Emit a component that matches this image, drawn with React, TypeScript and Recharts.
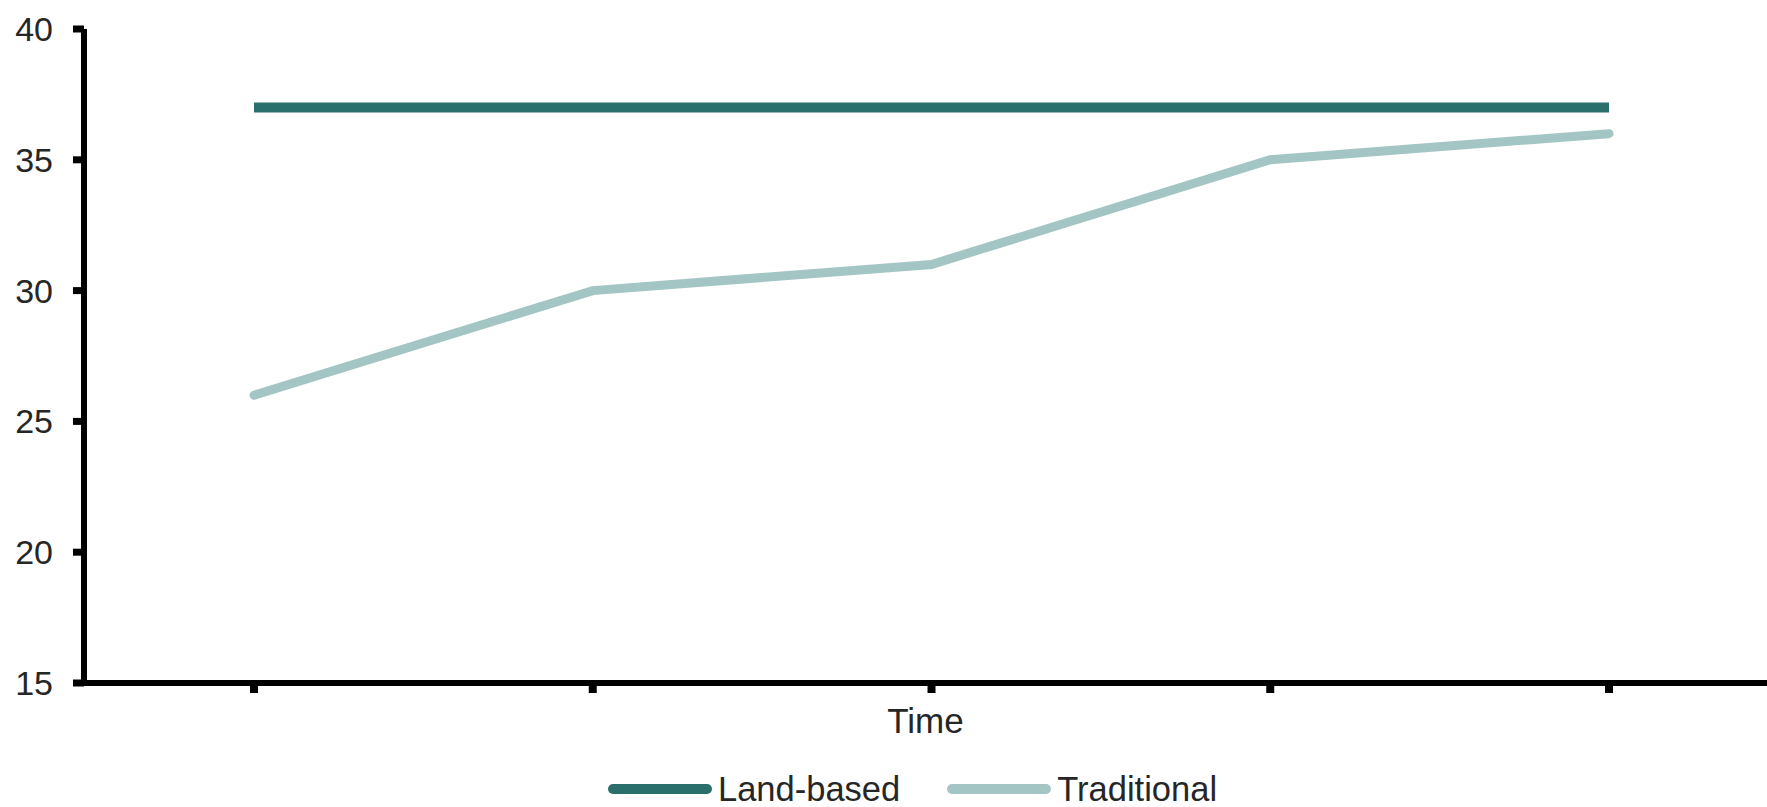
import React from 'react';
import { LineChart, Line, XAxis, YAxis, Legend } from 'recharts';

// chart values
const periods = ['P1', 'P2', 'P3', 'P4', 'P5'];
const landBased = [37, 37, 37, 37, 37];
const traditional = [26, 30, 31, 35, 36];
const yTicks = [15, 20, 25, 30, 35, 40];

const LAND_COLOR = '#2b6f6c';
const TRAD_COLOR = '#a3c5c4';
const TEXT_COLOR = '#262626';
const FONT = "'Liberation Sans', Arial, sans-serif";

const data = periods.map((p, i) => ({
  period: p,
  land: landBased[i],
  trad: traditional[i],
}));

const renderLegend = (props: any) => {
  const { payload } = props;
  return (
    <div style={{ display: 'flex', alignItems: 'center', height: 34 }}>
      {payload.map((entry: any, idx: number) => (
        <div
          key={`legend-${idx}`}
          style={{ display: 'flex', alignItems: 'center', marginRight: idx === 0 ? 47 : 0 }}
        >
          <svg width={104} height={14} style={{ display: 'block' }}>
            <line
              x1={5}
              y1={7}
              x2={99}
              y2={7}
              stroke={entry.color}
              strokeWidth={10}
              strokeLinecap="round"
            />
          </svg>
          <span
            style={{
              fontFamily: FONT,
              fontSize: 34.5,
              color: TEXT_COLOR,
              marginLeft: 6,
              lineHeight: '34px',
            }}
          >
            {entry.value}
          </span>
        </div>
      ))}
    </div>
  );
};

const App: React.FC = () => {
  return (
    <div style={{ position: 'absolute', left: 0, top: 0, background: '#fff' }}>
      <LineChart
        width={1767}
        height={807}
        data={data}
        margin={{ top: 29, right: 0, left: 0, bottom: 30 }}
      >
        <XAxis
          dataKey="period"
          height={60}
          padding={{ left: 170, right: 158 }}
          axisLine={{ stroke: '#000', strokeWidth: 6 }}
          tickLine={{ stroke: '#000', strokeWidth: 8 }}
          tickSize={10}
          tickFormatter={() => ''}
          label={{
            value: 'Time',
            position: 'insideBottom',
            offset: 10,
            fill: TEXT_COLOR,
            fontSize: 35,
            fontFamily: FONT,
          }}
        />
        <YAxis
          width={84}
          domain={[15, 40]}
          ticks={yTicks}
          allowDataOverflow
          axisLine={{ stroke: '#000', strokeWidth: 6 }}
          tickLine={{ stroke: '#000', strokeWidth: 7 }}
          tickSize={11}
          tickMargin={20}
          tick={{ fill: TEXT_COLOR, fontSize: 34, fontFamily: FONT }}
        />
        <Legend
          verticalAlign="bottom"
          height={34}
          content={renderLegend}
          wrapperStyle={{ left: 608, top: 772, width: 700 }}
        />
        <Line
          type="linear"
          dataKey="land"
          name="Land-based"
          stroke={LAND_COLOR}
          strokeWidth={10}
          dot={false}
          activeDot={false}
          isAnimationActive={false}
        />
        <Line
          type="linear"
          dataKey="trad"
          name="Traditional"
          stroke={TRAD_COLOR}
          strokeWidth={9}
          strokeLinecap="round"
          dot={false}
          activeDot={false}
          isAnimationActive={false}
        />
      </LineChart>
    </div>
  );
};

export default App;
